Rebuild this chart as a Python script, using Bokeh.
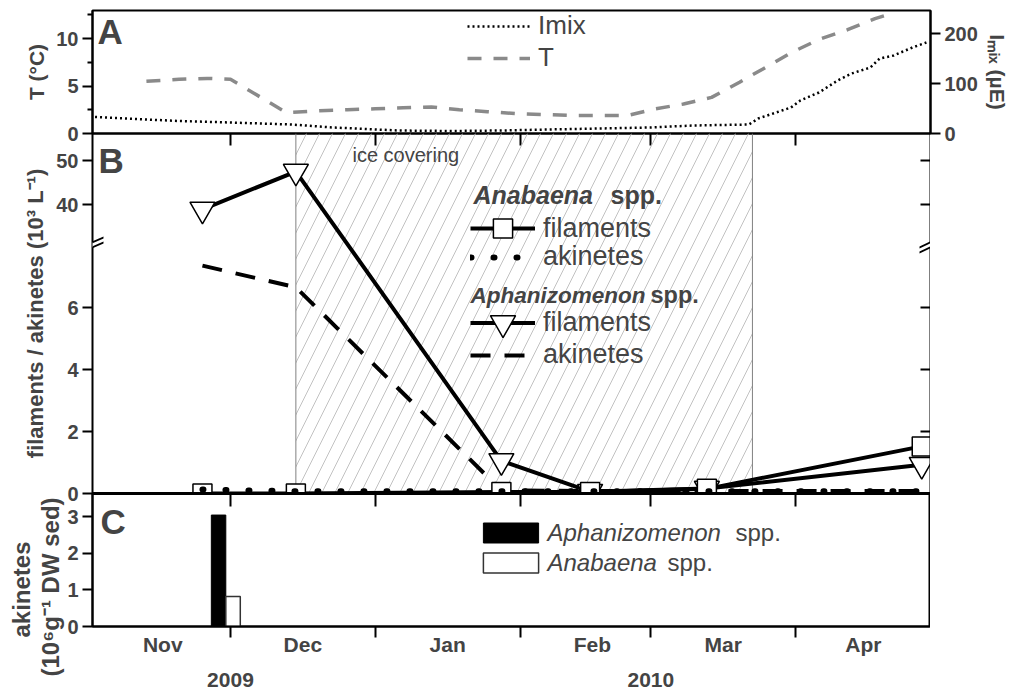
import pandas as pd
from bokeh.plotting import figure
from bokeh.models import (Range1d, LinearAxis, FixedTicker, Legend, LegendItem, Label, Title,
                          PolyAnnotation, BoxAnnotation, Span, ColumnDataSource)
from bokeh.layouts import column
from bokeh.transform import dodge
from bokeh.embed import file_html
from bokeh.resources import INLINE

FONT = "Liberation Sans"

# ---------------- data ----------------
month_bounds = ["2009-12-01", "2010-01-01", "2010-02-01", "2010-03-01", "2010-04-01"]
month_mids = ["2009-11-16T12:00", "2009-12-16T12:00", "2010-01-16T12:00",
              "2010-02-16T12:00", "2010-03-16T12:00", "2010-04-15T12:00"]
month_labels = ["Nov", "Dec", "Jan", "Feb", "Mar", "Apr"]
year_dates = ["2009-12-01", "2010-03-01"]
year_labels = ["2009", "2010"]

# panel A: water temperature (°C)
t_dates = ["2009-11-13", "2009-11-20", "2009-11-26", "2009-12-01", "2009-12-13", "2009-12-20",
           "2009-12-26", "2010-01-01", "2010-01-07", "2010-01-13", "2010-01-19", "2010-01-25",
           "2010-01-31", "2010-02-06", "2010-02-12", "2010-02-18", "2010-02-24", "2010-03-02",
           "2010-03-08", "2010-03-14", "2010-03-20", "2010-03-25", "2010-03-31", "2010-04-06",
           "2010-04-12", "2010-04-18", "2010-04-20"]
t_vals = [5.5, 5.7, 5.8, 5.7, 2.2, 2.4, 2.5, 2.6, 2.7, 2.8, 2.5, 2.3, 2.1, 2.0, 1.9, 1.9,
          1.9, 2.6, 3.1, 3.8, 5.4, 6.8, 8.5, 9.9, 10.9, 12.1, 12.4]

# panel A: mixed-layer light Imix (µE)
imix_dates = ["2009-11-02", "2009-11-13", "2009-11-20", "2009-12-01", "2009-12-14", "2009-12-23",
              "2010-01-06", "2010-01-17", "2010-01-28", "2010-02-07", "2010-02-18", "2010-03-01",
              "2010-03-10", "2010-03-22", "2010-03-24", "2010-03-31", "2010-04-02", "2010-04-06",
              "2010-04-10", "2010-04-13", "2010-04-17", "2010-04-19", "2010-04-22", "2010-04-26",
              "2010-04-29"]
imix_vals = [33, 28, 25, 22, 18, 12, 6, 5, 6, 8, 10, 12, 16, 18, 30, 52, 66, 82, 106, 120,
             132, 150, 156, 172, 182]

# panel B: filaments / akinetes (10^3 L-1)
sample_dates = ["2009-11-25", "2009-12-15", "2010-01-28", "2010-02-16", "2010-03-13", "2010-04-28"]
aph_filaments = [38.9, 47.5, 1.05, 0.06, 0.16, 0.93]
aph_akinetes = [7.35, 6.65, 0.10, 0.08, 0.08, 0.08]
ana_filaments = [0.0, 0.0, 0.05, 0.05, 0.15, 1.52]
ana_akinetes = [0.13, 0.07, 0.07, 0.07, 0.07, 0.07]
ice_period = ["2009-12-15", "2010-03-22T18:00"]
b_tick_values = [0, 2, 4, 6, 40, 50]

# panel C: sediment akinetes (10^6 g-1 DW sed)
sed_date = ["2009-11-30"]
sed_aph = [3.05]
sed_ana = [0.82]
c_tick_values = [0, 1, 2, 3]


def ms(s):
    return pd.Timestamp(s).value // 10**6


# broken y axis of panel B
LOW_MAX, HIGH_MIN, HIGH_SCALE = 8.1, 31.4, 4.4 / 31.0


def brk(v):
    if v <= LOW_MAX:
        return v
    return round(LOW_MAX + (max(v, HIGH_MIN) - HIGH_MIN) * HIGH_SCALE, 4)


DAY = 86400000
xr = Range1d(ms("2009-11-01T11:00"), ms("2010-04-29T21:00"))
FW = 838
LEFT = 92


def style(ax, size="20px"):
    ax.major_label_text_font = FONT
    ax.major_label_text_font_size = size
    ax.major_label_text_font_style = "bold"
    ax.axis_label_text_font = FONT
    ax.axis_label_text_font_style = "bold"
    ax.axis_line_width = 2
    ax.major_tick_line_width = 2
    ax.minor_tick_line_width = 2
    ax.major_tick_in = 0
    ax.minor_tick_in = 0
    ax.minor_tick_out = 0
    ax.major_label_standoff = 4


def base_fig(h, yr, top=0, bottom=0, right=0, transparent=False):
    p = figure(frame_width=FW, frame_height=h, x_range=xr, y_range=yr,
               x_axis_type=None, y_axis_type=None, output_backend="svg",
               toolbar_location=None, min_border_left=LEFT, min_border_right=right,
               min_border_top=top, min_border_bottom=bottom)
    p.background_fill_color = "white"
    p.border_fill_color = "white"
    if transparent:
        p.background_fill_alpha = 0
        p.border_fill_alpha = 0
    p.outline_line_color = "black"
    p.outline_line_width = 2
    p.outline_line_alpha = 1
    return p


def text_label(p, x, y, text, size, st="normal"):
    # y is the wanted baseline; the SVG text sits ~0.35 em lower than asked
    fs = float(size.rstrip("px"))
    p.add_layout(Label(x=x, y=y + 0.35 * fs, x_units="screen", y_units="screen", text=text,
                       text_baseline="alphabetic", text_font=FONT, text_font_size=size,
                       text_font_style=st))


bounds_ms = [ms(d) for d in month_bounds]

# ---------------- panel A ----------------
pA = base_fig(123, Range1d(0, 12.95), top=10, bottom=14, right=0)
pA.margin = (0, 0, -14, 0)
pA.extra_y_ranges = {"imix": Range1d(0, 246)}

axT = LinearAxis(ticker=FixedTicker(ticks=[0, 5, 10], minor_ticks=[2.5, 7.5, 12.5]),
                 axis_label="T (°C)")
style(axT)
axT.major_tick_out = 10
axT.minor_tick_out = 5
axT.axis_label_text_font_size = "21px"
pA.add_layout(axT, "left")

axI = LinearAxis(y_range_name="imix", ticker=FixedTicker(ticks=[0, 100, 200]),
                 axis_label="Iₘᵢₓ (µE)")
style(axI)
axI.major_tick_out = 10
axI.axis_label_text_font_size = "21px"
pA.add_layout(axI, "right")

axAb = LinearAxis(ticker=FixedTicker(ticks=[], minor_ticks=bounds_ms))
style(axAb)
axAb.major_tick_out = 0
axAb.minor_tick_out = 12
pA.add_layout(axAb, "below")

r_T = pA.line([ms(d) for d in t_dates], t_vals, line_color="#8a8a8a", line_width=3.5,
              line_dash="14 12")
r_I = pA.line([ms(d) for d in imix_dates], imix_vals, y_range_name="imix",
              line_color="black", line_width=2.5, line_dash="2 3")

legA = Legend(items=[LegendItem(label="Imix", renderers=[r_I]),
                     LegendItem(label="T", renderers=[r_T])],
              location=(375, 60), glyph_width=63, glyph_height=30, label_height=30,
              spacing=1, padding=0, margin=0, label_standoff=8,
              label_text_font=FONT, label_text_font_size="26px",
              border_line_alpha=0, background_fill_alpha=0)
pA.add_layout(legA)
text_label(pA, 5, 90, "A", "35px", "bold")

# ---------------- panel B ----------------
B_TOP = 360 / 31.0
pB = base_fig(360, Range1d(0, B_TOP), bottom=14, right=0, transparent=True)
pB.margin = (0, 0, -14, 0)
pB.outline_line_color = None

pB.add_layout(BoxAnnotation(left=ms(ice_period[0]), right=ms(ice_period[1]),
                            fill_alpha=0, line_alpha=0, hatch_pattern="/",
                            hatch_color="#c2c2c2", hatch_weight=1, hatch_scale=26,
                            level="underlay"))
for d in ice_period:
    pB.add_layout(Span(location=ms(d), dimension="height", line_color="#808080",
                       line_width=1, level="underlay"))
text_label(pB, 260, 332, "ice covering", "20px")

b_pos = [brk(v) for v in b_tick_values]
axB = LinearAxis(ticker=FixedTicker(ticks=b_pos),
                 major_label_overrides={p_: str(v) for p_, v in zip(b_pos, b_tick_values)},
                 axis_label="filaments / akinetes (10³ L⁻¹)")
style(axB)
axB.major_tick_out = 10
axB.axis_label_text_font_size = "22px"
pB.add_layout(axB, "left")

axBr = LinearAxis(ticker=FixedTicker(ticks=[], minor_ticks=b_pos))
style(axBr)
axBr.major_tick_out = 0
axBr.minor_tick_in = 10
pB.add_layout(axBr, "right")

axBb = LinearAxis(ticker=FixedTicker(ticks=[], minor_ticks=bounds_ms))
style(axBb)
axBb.axis_line_width = 3
axBb.major_tick_out = 0
axBb.minor_tick_out = 13
pB.add_layout(axBb, "below")

xs = [ms(d) for d in sample_dates]
srcB = ColumnDataSource(dict(
    x=xs,
    aph_fil=[brk(v) for v in aph_filaments],
    aph_aki=[brk(v) for v in aph_akinetes],
    ana_fil=[brk(v) for v in ana_filaments],
    ana_aki=[brk(v) for v in ana_akinetes],
))
r_aph_aki = pB.line("x", "aph_aki", source=srcB, line_color="black", line_width=4,
                    line_dash="20 14")
r_ana_line = pB.line("x", "ana_fil", source=srcB, line_color="black", line_width=4,
                     line_join="round")
r_aph_line = pB.line("x", "aph_fil", source=srcB, line_color="black", line_width=4,
                     line_join="round")
r_aph_pts = pB.scatter("x", "aph_fil", source=srcB, marker="inverted_triangle", size=25,
                       fill_color="white", line_color="black", line_width=1.5)
r_ana_pts = pB.scatter("x", "ana_fil", source=srcB, marker="square", size=19,
                       fill_color="white", line_color="black", line_width=1.5)
r_ana_aki = pB.line("x", "ana_aki", source=srcB, line_color="black", line_width=6,
                    line_dash="1 22", line_cap="round")


def row_legend(label, rends, vy, gh):
    return Legend(items=[LegendItem(label=label, renderers=rends)], location=(378, vy),
                  glyph_width=65, glyph_height=gh, label_height=gh, spacing=0, padding=0,
                  margin=0, label_standoff=8, label_text_font=FONT,
                  label_text_font_size="27px", border_line_alpha=0,
                  background_fill_alpha=0)


pB.add_layout(row_legend("filaments", [r_ana_line, r_ana_pts], 241, 48))
pB.add_layout(row_legend("akinetes", [r_ana_aki], 221, 30))
pB.add_layout(row_legend("filaments", [r_aph_line, r_aph_pts], 139.5, 63))
pB.add_layout(row_legend("akinetes", [r_aph_aki], 123, 30))

text_label(pB, 381, 290, "Anabaena", "25px", "bold italic")
text_label(pB, 518, 290, "spp.", "25px", "bold")
text_label(pB, 378, 190, "Aphanizomenon", "22.5px", "bold italic")
text_label(pB, 558, 190, "spp.", "23.5px", "bold")
text_label(pB, 6, 321, "B", "35px", "bold")

# axis-break marks on the left and right axes
dxp = (xr.end - xr.start) / FW
dyp = B_TOP / 360.0
ybrk = 8.02


def poly(x0, pts, color):
    return PolyAnnotation(xs=[x0 + px * dxp for px, _ in pts],
                          ys=[ybrk + py * dyp for _, py in pts],
                          fill_color=color, fill_alpha=1, line_alpha=0)


for x0 in (xr.start, xr.end):
    pB.add_layout(poly(x0, [(-11, -7.5), (11, 2.5), (11, 7.5), (-11, -2.5)], "white"))
    pB.add_layout(poly(x0, [(-11, -3.5), (11, 6.5), (11, 8.5), (-11, -1.5)], "black"))
    pB.add_layout(poly(x0, [(-11, -8.5), (11, 1.5), (11, 3.5), (-11, -6.5)], "black"))

# ---------------- panel C ----------------
pC = base_fig(133, Range1d(0, 3.64), top=30, bottom=66, transparent=True)
pC.margin = (-30, 0, 0, 0)

axC = LinearAxis(ticker=FixedTicker(ticks=c_tick_values))
style(axC)
axC.major_tick_out = 10
pC.add_layout(axC, "left")

# two-line y title of panel C, starting below the frame as in the original
for txt, off in [("(10⁶g⁻¹ DW sed)", -50), ("akinetes", -11)]:
    pC.add_layout(Title(text=txt, align="left", offset=off, vertical_align="middle",
                        standoff=0, text_font=FONT, text_font_size="24px",
                        text_font_style="bold"), "left")

mid_ms = [ms(d) for d in month_mids]
axCb = LinearAxis(ticker=FixedTicker(ticks=mid_ms, minor_ticks=bounds_ms),
                  major_label_overrides={m: l for m, l in zip(mid_ms, month_labels)})
style(axCb, "21px")
axCb.major_tick_out = 1
axCb.major_tick_line_alpha = 0
axCb.minor_tick_out = 11
axCb.major_label_standoff = -5
pC.add_layout(axCb, "below")

year_ms = [ms(d) for d in year_dates]
axY = LinearAxis(ticker=FixedTicker(ticks=year_ms),
                 major_label_overrides={m: l for m, l in zip(year_ms, year_labels)})
style(axY, "21px")
axY.axis_line_color = None
axY.major_tick_out = 0
axY.major_tick_line_alpha = 0
axY.major_label_standoff = 14
pC.add_layout(axY, "below")

srcC = ColumnDataSource(dict(x=[ms(d) for d in sed_date], aph=sed_aph, ana=sed_ana))
BW = 3.1 * DAY
r_c_aph = pC.vbar(x=dodge("x", -BW / 2, range=xr), top="aph", width=BW, source=srcC,
                  fill_color="black", line_color="black", line_width=1)
r_c_ana = pC.vbar(x=dodge("x", BW / 2, range=xr), top="ana", width=BW, source=srcC,
                  fill_color="white", line_color="#333333", line_width=1.5)

legC = Legend(items=[LegendItem(label=" ", renderers=[r_c_aph]),
                     LegendItem(label=" ", renderers=[r_c_ana])],
              location=(384, 51.5), glyph_width=69, glyph_height=25, label_height=25,
              spacing=5, padding=0, margin=0, label_standoff=0,
              label_text_font_size="1px", border_line_alpha=0, background_fill_alpha=0)
pC.add_layout(legC)
text_label(pC, 455, 86, "Aphanizomenon", "24px", "italic")
text_label(pC, 643, 86, "spp.", "24px")
text_label(pC, 455, 56, "Anabaena", "24px", "italic")
text_label(pC, 575, 56, "spp.", "24px")
text_label(pC, 8, 93, "C", "35px", "bold")

layout = column(pA, pB, pC, spacing=0)
open("out.html", "w").write(file_html(layout, INLINE))
